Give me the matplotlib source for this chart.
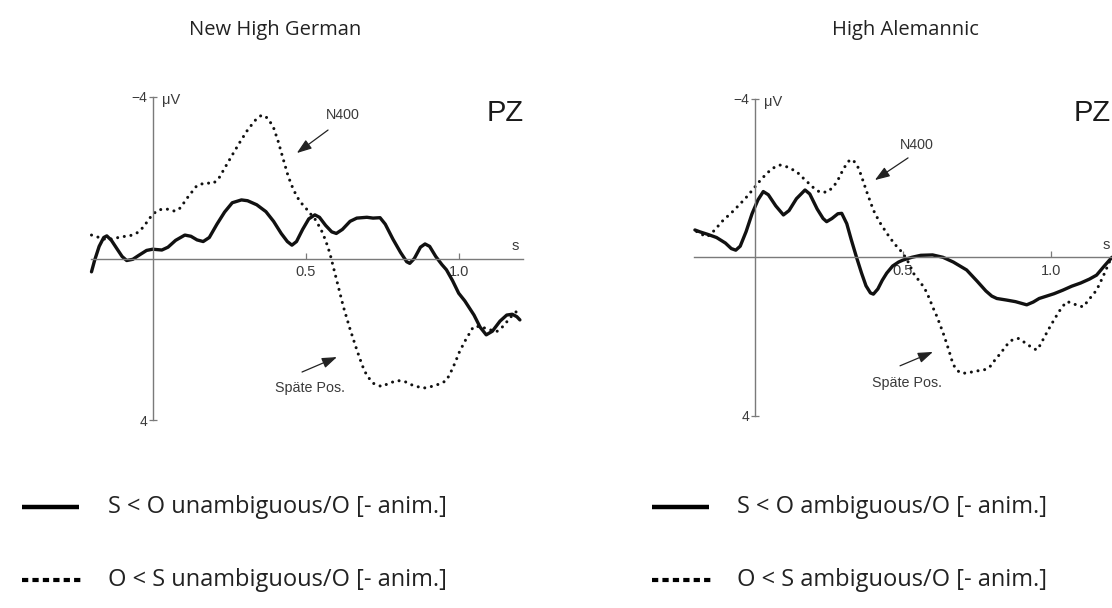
import matplotlib
matplotlib.use("Agg")
import matplotlib.pyplot as plt
from matplotlib.lines import Line2D

# ERP traces at electrode PZ (time in s, amplitude in microvolts, negative up)
nhg_solid_t = [-0.20, -0.19, -0.175, -0.16, -0.15, -0.135, -0.115, -0.10, -0.085, -0.065,
               -0.045, -0.02, 0.0, 0.03, 0.05, 0.075, 0.105, 0.125, 0.145, 0.165,
               0.185, 0.21, 0.235, 0.26, 0.29, 0.31, 0.34, 0.37, 0.395, 0.42,
               0.44, 0.455, 0.47, 0.49, 0.51, 0.53, 0.545, 0.565, 0.585, 0.60,
               0.62, 0.645, 0.667, 0.70, 0.72, 0.743, 0.76, 0.785, 0.81, 0.83,
               0.84, 0.855, 0.875, 0.89, 0.905, 0.925, 0.945, 0.96, 0.98, 1.0,
               1.02, 1.05, 1.07, 1.09, 1.11, 1.135, 1.157, 1.175, 1.19, 1.20]
nhg_solid_v = [0.33, 0.05, -0.30, -0.52, -0.56, -0.45, -0.22, -0.05, 0.05, 0.02,
               -0.08, -0.20, -0.23, -0.21, -0.28, -0.45, -0.58, -0.55, -0.46, -0.42,
               -0.52, -0.85, -1.15, -1.38, -1.45, -1.43, -1.33, -1.16, -0.92, -0.62,
               -0.42, -0.33, -0.42, -0.72, -0.98, -1.08, -1.02, -0.82, -0.66, -0.62,
               -0.72, -0.92, -1.0, -1.02, -1.0, -1.01, -0.85, -0.48, -0.15, 0.08,
               0.12, 0.0, -0.28, -0.36, -0.30, -0.05, 0.15, 0.28, 0.55, 0.86,
               1.05, 1.40, 1.70, 1.89, 1.80, 1.55, 1.40, 1.38, 1.44, 1.52]

nhg_dot_t = [-0.20, -0.185, -0.17, -0.15, -0.13, -0.10, -0.075, -0.05, -0.03, -0.01,
             0.013, 0.03, 0.05, 0.073, 0.09, 0.115, 0.144, 0.17, 0.198, 0.215,
             0.24, 0.263, 0.285, 0.31, 0.335, 0.356, 0.375, 0.394, 0.41, 0.425,
             0.443, 0.46, 0.48, 0.50, 0.514, 0.53, 0.55, 0.565, 0.579, 0.59,
             0.605, 0.623, 0.645, 0.667, 0.685, 0.70, 0.721, 0.748, 0.775, 0.80,
             0.825, 0.85, 0.884, 0.91, 0.94, 0.96, 0.975, 0.99, 1.0, 1.02,
             1.048, 1.07, 1.095, 1.124, 1.145, 1.17, 1.20]
nhg_dot_v = [-0.58, -0.55, -0.50, -0.47, -0.49, -0.54, -0.56, -0.64, -0.78, -1.0,
             -1.18, -1.22, -1.22, -1.17, -1.25, -1.52, -1.80, -1.87, -1.86, -1.97,
             -2.30, -2.6, -2.88, -3.18, -3.42, -3.55, -3.48, -3.26, -2.90, -2.50,
             -2.03, -1.70, -1.42, -1.25, -1.12, -0.98, -0.72, -0.45, -0.13, 0.20,
             0.65, 1.19, 1.75, 2.26, 2.65, 2.90, 3.09, 3.17, 3.08, 3.02,
             3.05, 3.14, 3.21, 3.17, 3.10, 3.02, 2.80, 2.55, 2.35, 2.05,
             1.69, 1.68, 1.75, 1.81, 1.68, 1.45, 1.23]

ha_solid_t = [-0.203, -0.185, -0.16, -0.13, -0.10, -0.08, -0.065, -0.05, -0.03, -0.01,
              0.01, 0.028, 0.045, 0.07, 0.096, 0.115, 0.14, 0.169, 0.185, 0.21,
              0.23, 0.242, 0.26, 0.28, 0.293, 0.31, 0.325, 0.343, 0.36, 0.375,
              0.39, 0.40, 0.415, 0.43, 0.445, 0.465, 0.485, 0.50, 0.53, 0.56,
              0.60, 0.635, 0.67, 0.715, 0.75, 0.78, 0.80, 0.817, 0.85, 0.88,
              0.918, 0.94, 0.96, 0.985, 1.01, 1.04, 1.07, 1.10, 1.13, 1.154,
              1.18, 1.206]
ha_solid_v = [-0.69, -0.64, -0.58, -0.50, -0.36, -0.22, -0.18, -0.28, -0.65, -1.10,
              -1.45, -1.66, -1.58, -1.30, -1.07, -1.18, -1.48, -1.70, -1.60, -1.22,
              -0.98, -0.90, -0.98, -1.10, -1.11, -0.85, -0.45, 0.0, 0.40, 0.72,
              0.90, 0.93, 0.80, 0.58, 0.40, 0.22, 0.12, 0.07, 0.0, -0.05,
              -0.06, 0.0, 0.12, 0.32, 0.60, 0.85, 0.98, 1.04, 1.08, 1.12,
              1.2, 1.13, 1.04, 0.98, 0.92, 0.83, 0.73, 0.65, 0.55, 0.45,
              0.22, 0.0]

ha_dot_t = [-0.197, -0.18, -0.163, -0.15, -0.135, -0.107, -0.08, -0.05, -0.025, 0.0,
            0.02, 0.04, 0.06, 0.084, 0.11, 0.141, 0.16, 0.18, 0.20, 0.22,
            0.245, 0.265, 0.28, 0.30, 0.321, 0.335, 0.35, 0.36, 0.38, 0.40,
            0.42, 0.445, 0.47, 0.50, 0.52, 0.535, 0.55, 0.565, 0.58, 0.591,
            0.603, 0.615, 0.625, 0.636, 0.645, 0.655, 0.665, 0.675, 0.69, 0.704,
            0.73, 0.75, 0.775, 0.794, 0.81, 0.83, 0.85, 0.87, 0.89, 0.905,
            0.92, 0.94, 0.952, 0.965, 0.975, 0.997, 1.015, 1.035, 1.053, 1.07,
            1.09, 1.109, 1.13, 1.154, 1.175, 1.2]
ha_dot_v = [-0.65, -0.58, -0.52, -0.58, -0.70, -0.94, -1.12, -1.35, -1.55, -1.78,
            -1.96, -2.12, -2.25, -2.33, -2.28, -2.16, -2.02, -1.88, -1.74, -1.64,
            -1.65, -1.78, -1.95, -2.25, -2.47, -2.42, -2.25, -2.04, -1.60, -1.19,
            -0.90, -0.61, -0.35, -0.1, 0.15, 0.4, 0.55, 0.70, 0.88, 1.08,
            1.30, 1.50, 1.70, 1.92, 2.12, 2.35, 2.60, 2.78, 2.90, 2.93,
            2.90, 2.87, 2.84, 2.76, 2.60, 2.42, 2.22, 2.08, 2.05, 2.12,
            2.20, 2.30, 2.34, 2.20, 2.05, 1.75, 1.52, 1.28, 1.12, 1.15,
            1.22, 1.25, 1.05, 0.83, 0.50, 0.07]

titles = ["New High German", "High Alemannic"]
legend_left = ["S < O unambiguous/O [- anim.]", "O < S unambiguous/O [- anim.]"]
legend_right = ["S < O ambiguous/O [- anim.]", "O < S ambiguous/O [- anim.]"]

W, H = 1112, 608
fig = plt.figure(figsize=(W / 100, H / 100), dpi=100)
fig.patch.set_facecolor("white")

AXIS = "#7a7a7a"
TXT = "#3a3a3a"
SANS = ["Liberation Sans", "DejaVu Sans"]
BODY_FONT = ["Open Sans", "DejaVu Sans"]


def make_panel(x0, px_per_s, y0, px_per_uv, xlim):
    # place axes so that t=0 sits at pixel x0 and 0 uV at pixel y0
    left = x0 + px_per_s * xlim[0]
    right = x0 + px_per_s * xlim[1]
    top = y0 - px_per_uv * 4.4
    bottom = y0 + px_per_uv * 4.4
    ax = fig.add_axes([left / W, 1 - bottom / H, (right - left) / W, (bottom - top) / H])
    ax.set_xlim(*xlim)
    ax.set_ylim(4.4, -4.4)
    ax.patch.set_alpha(0)
    for side in ["top", "right"]:
        ax.spines[side].set_visible(False)
    ax.spines["left"].set_position(("data", 0))
    ax.spines["bottom"].set_position(("data", 0))
    ax.spines["left"].set_bounds(-4, 4)
    ax.spines["bottom"].set_bounds(xlim[0], xlim[1])
    for side in ["left", "bottom"]:
        ax.spines[side].set_color(AXIS)
        ax.spines[side].set_linewidth(1.0)
    ax.set_yticks([-4, 4])
    ax.set_yticklabels(["\u22124", "4"], family=SANS, fontsize=10, color=TXT)
    ax.tick_params(axis="y", direction="inout", length=6, width=0.9, color=AXIS, pad=1)
    ax.set_xticks([0.5, 1.0])
    ax.set_xticklabels(["0.5", "1.0"], family=SANS, fontsize=10.5, color=TXT)
    ax.tick_params(axis="x", direction="in", length=4, width=0.9, color=AXIS, pad=5)
    ax.text(0.03, -3.92, "\u03bcV", family=SANS, fontsize=10.5, color=TXT, va="center")
    ax.text(1.185, -0.3, "s", family=SANS, fontsize=10.5, color=TXT, ha="center",
            va="center")
    return ax


def draw_traces(ax, st, sv, dt, dv):
    ax.plot(dt, dv, color="#111111", lw=2.2, linestyle=(0, (0.01, 2.2)),
            dash_capstyle="round", clip_on=False)
    ax.plot(st, sv, color="#111111", lw=2.4, solid_capstyle="round",
            solid_joinstyle="round", clip_on=False)


def arrow(ax, label, text_xy, tail, head):
    ax.text(*text_xy, label, family=SANS, fontsize=10.3, color=TXT, ha="center",
            va="center")
    ax.annotate("", xy=head, xytext=tail,
                arrowprops=dict(arrowstyle="-|>,head_length=0.9,head_width=0.32",
                                color="#222222", lw=0.9, shrinkA=0, shrinkB=0))


# left panel
ax1 = make_panel(152.7, 306, 258.5, 40.4, (-0.2, 1.21))
draw_traces(ax1, nhg_solid_t, nhg_solid_v, nhg_dot_t, nhg_dot_v)
ax1.text(1.09, -3.6, "PZ", family=SANS, fontsize=21, color="#1a1a1a", va="center")
arrow(ax1, "N400", (0.62, -3.55), (0.573, -3.18), (0.471, -2.61))
arrow(ax1, "Späte Pos.", (0.514, 3.2), (0.488, 2.81), (0.602, 2.44))

# right panel, runs past the right edge of the figure
ax2 = make_panel(755, 296, 257.3, 39.6, (-0.205, 1.26))
draw_traces(ax2, ha_solid_t, ha_solid_v, ha_dot_t, ha_dot_v)
ax2.text(1.078, -3.64, "PZ", family=SANS, fontsize=21, color="#1a1a1a", va="center")
arrow(ax2, "N400", (0.547, -2.84), (0.517, -2.51), (0.405, -1.95))
arrow(ax2, "Späte Pos.", (0.514, 3.17), (0.49, 2.74), (0.601, 2.39))

# titles
fig.text(275 / W, 1 - 30 / H, titles[0], family=BODY_FONT, fontsize=14.5,
         color="#222222", ha="center", va="center")
fig.text(905 / W, 1 - 30 / H, titles[1], family=BODY_FONT, fontsize=14.5,
         color="#222222", ha="center", va="center")

# legend rows drawn in pixel positions
rows = [507, 580]
for x_line, x_text, labels in [(22, 108, legend_left), (652, 737, legend_right)]:
    fig.add_artist(Line2D([x_line / W, (x_line + 57) / W], [1 - rows[0] / H] * 2,
                          color="black", lw=3.2, solid_capstyle="butt"))
    fig.add_artist(Line2D([x_line / W, (x_line + 60) / W], [1 - rows[1] / H] * 2,
                          color="black", lw=3.0, linestyle=(0, (1.5, 1.0)),
                          dash_capstyle="butt"))
    for r, lab in zip(rows, labels):
        fig.text(x_text / W, 1 - r / H, lab, family=BODY_FONT, fontsize=17,
                 color="#222222", ha="left", va="center")

fig.savefig("out.png", dpi=100)
